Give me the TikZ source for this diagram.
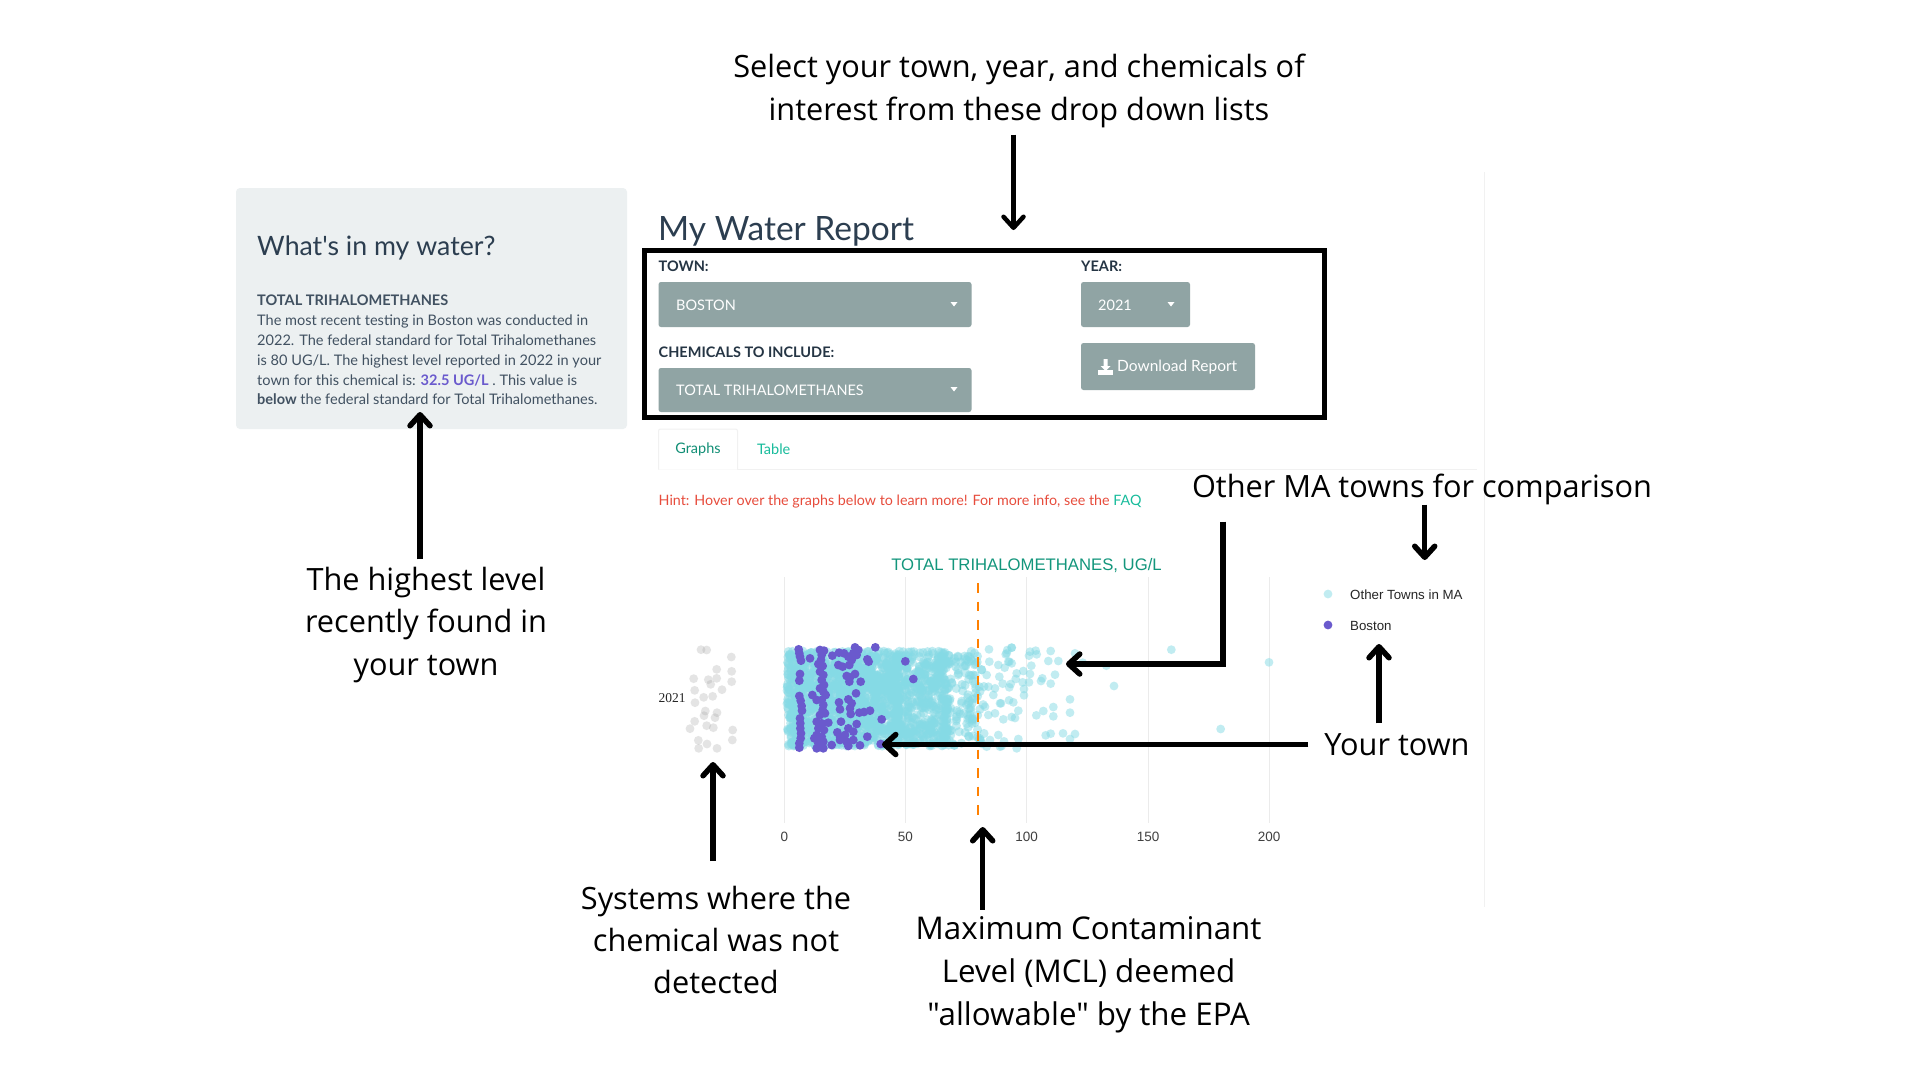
\documentclass[tikz,border=0pt]{standalone}
\usepackage{fontspec}
\usetikzlibrary{calc}
\usetikzlibrary{arrows.meta}
\newfontfamily\latofont{Lato}
\newfontfamily\annofont{Open Sans}
\newfontfamily\plotfont{Liberation Sans}
\newfontfamily\yearfont{Liberation Serif}
\definecolor{slate}{HTML}{2C3E50}
\definecolor{wellgrey}{HTML}{ECF0F1}
\definecolor{selectgrey}{HTML}{90A4A4}
\definecolor{tealdark}{HTML}{128F76}
\definecolor{teallite}{HTML}{18BC9C}
\definecolor{hintred}{HTML}{E74C3C}
\definecolor{townblue}{HTML}{6A5ACD}
\definecolor{dotcyan}{HTML}{85DAE5}
\definecolor{gridgrey}{HTML}{EBEBEB}
\definecolor{mclorange}{HTML}{FF8000}
\tikzset{
  callout/.style={black, line width=5.5pt, -{Straight Barb[round,length=11pt,width=20pt]}},
  anno/.style={font=\annofont\fontsize{30.7}{42.2}\selectfont, align=center, inner sep=0pt},
  selectbox/.style={fill=selectgrey, rounded corners=2.5pt},
  selecttext/.style={font=\latofont\fontsize{14.5}{17}\selectfont, text=white, anchor=west, inner sep=0pt},
  fieldlabel/.style={font=\latofont\bfseries\fontsize{14.5}{17}\selectfont, text=slate!85!black, anchor=base west, inner sep=0pt},
  ticklabel/.style={font=\plotfont\fontsize{13.5}{16}\selectfont, text=black!75, inner sep=0pt},
  legendlabel/.style={font=\plotfont\fontsize{13.3}{16}\selectfont, text=black!85, anchor=west, inner sep=0pt},
  ptcyan/.style={fill=dotcyan, fill opacity=.5},
  ptgrey/.style={fill=black!35, fill opacity=.3},
  ptblue/.style={fill=townblue}
}
\begin{document}
\begin{tikzpicture}[x=1pt,y=-1pt]
\useasboundingbox (0,0) rectangle (1920,1080);
\fill[white] (0,0) rectangle (1920,1080);

% sidebar
\fill[wellgrey, rounded corners=4pt] (236,188) rectangle (627,429);
\node[anchor=base west, inner sep=0pt, text=slate, font=\latofont\fontsize{26.7}{32}\selectfont] (sidetitle) at (257,255) {What's in my water?};
\node[anchor=north west, inner sep=0pt, align=left, text=slate!90, font=\latofont\fontsize{14.55}{19.8}\selectfont] (sidebody) at (257,295) {\textbf{TOTAL TRIHALOMETHANES}\\
The most recent testing in Boston was conducted in\\
2022. The federal standard for Total Trihalomethanes\\
is 80 UG/L. The highest level reported in 2022 in your\\
town for this chemical is: \textcolor{townblue}{\textbf{32.5 UG/L}} . This value is\\
\textbf{below} the federal standard for Total Trihalomethanes.};

% report header and inputs
\draw[gridgrey!70, line width=1pt] (1484,172) -- (1484,907);
\node[anchor=base west, inner sep=0pt, text=slate, font=\latofont\fontsize{33.5}{40}\selectfont] (reporttitle) at (658,240) {My Water Report};

\node[fieldlabel] (townlabel) at (658.5,271) {TOWN:};
\node[fieldlabel] (yearlabel) at (1081,271) {YEAR:};
\node[fieldlabel] (chemlabel) at (658.5,357) {CHEMICALS TO INCLUDE:};

\fill[selectbox] (658.5,282) rectangle (971.5,327);
\fill[selectbox] (1081,282) rectangle (1190,327);
\fill[selectbox] (658.5,368) rectangle (971.5,412);
\fill[selectbox] (1081,343) rectangle (1255,390);
\node[selecttext] (townvalue) at (676,305) {BOSTON};
\node[selecttext] (yearvalue) at (1098,305) {2021};
\node[selecttext] (chemvalue) at (676,390) {TOTAL TRIHALOMETHANES};
\node[selecttext, font=\latofont\fontsize{15.5}{18}\selectfont] (dlvalue) at (1117,367) {Download Report};
\foreach \x/\y in {954/304, 1171/304, 954/389}
\fill[white] (\x-3.5,\y-2) -- ++(7,0) -- ++(-3.5,4.5) -- cycle;
% download icon
\fill[white] (1103.5,359) rectangle (1107.5,366) (1100.5,366) -- (1110.5,366) -- (1105.5,371) -- cycle;
\fill[white] (1098,370) rectangle (1113,374.5);

\draw[black, line width=5pt] (644,250.5) rectangle (1324,417);

% tabs
\draw[gridgrey!70, line width=1pt] (658.5,469) -- (1477,469);
\draw[gridgrey!70, line width=1pt, fill=white, rounded corners=2pt] (658.5,469.5) -- (658.5,429) -- (737.5,429) -- (737.5,469.5);
\node[inner sep=0pt, text=tealdark, font=\latofont\fontsize{14.5}{17}\selectfont] (tabgraphs) at (698,449) {Graphs};
\node[inner sep=0pt, text=teallite, font=\latofont\fontsize{14.5}{17}\selectfont] (tabtable) at (773.7,449) {Table};
\node[anchor=base west, inner sep=0pt, text=hintred, font=\latofont\fontsize{14.3}{17}\selectfont] (hintline) at (658.5,505) {Hint: Hover over the graphs below to learn more! For more info, see the \textcolor{teallite}{FAQ}};

% plot
\node[inner sep=0pt, text=tealdark!85!teallite, font=\plotfont\fontsize{16.7}{20}\selectfont] (plottitle) at (1026.5,566) {TOTAL TRIHALOMETHANES, UG/L};
\foreach \v/\x in {0/784.3, 50/905.3, 100/1026.7, 150/1148, 200/1269}{
\draw[gridgrey, line width=1pt] (\x,577) -- (\x,823);
\node[ticklabel] (tick\v) at (\x,837) {\v};
}
\node[inner sep=0pt, font=\yearfont\fontsize{13.5}{16}\selectfont, text=black!85] (yearaxis) at (672,698) {2021};

\foreach \x/\y in {183/329,200/330,274/351,230/388,275/394,161/416,205/419,230/415,212/433,275/425,164/451,246/449,191/472,218/469,165/488,196/513,231/518,192/527,225/533,164/544,200/557,220/563,150/566,278/570,277/600,175/601,201/612,176/625,231/625}
\fill[ptgrey] ({640+\x/3},{540+\y/3}) circle (4.4pt);

% dense part of the cloud
\pgfmathsetseed{42}
\foreach \n/\xa/\xb in {1300/787/900, 420/895/948, 150/940/984}
\foreach \i in {1,...,\n}{
\pgfmathsetmacro{\px}{\xa+(\xb-\xa)*rnd}
\pgfmathsetmacro{\py}{651+95*rnd}
\fill[ptcyan] (\px,\py) circle (4.6pt);
}
\foreach \x/\y in {1047/328,1100/340,1115/323,1075/375,1048/365,1105/365,1040/405,1078/410,1045/440,1065/445,1060/465,1035/500,1045/525,1080/490,1065/520,1050/600,1075/585,1040/620,1080/620}
\fill[ptcyan] ({640+\x/3},{540+\y/3}) circle (4.4pt);
\foreach \x/\y in {35/323,22/330,17/343,28/365,35/370,14/383,50/400,70/393,90/402,94/377,90/335,107/332,87/347,110/343,152/333,145/363,175/363,225/340,248/368,165/404,127/415,123/423,152/431,87/427,68/427,47/417,32/432,8/431,28/442,72/447,72/466,27/481,40/487,55/512,35/531,45/534,10/538,3/490,109/526,130/513,160/501,160/529,210/478,210/518,137/586,152/581,189/580,225/582,210/597,55/597,12/604,50/625,5/618,514/329,319/377,342/438,662/567,807/367}
\fill[ptcyan] ({1000+\x/3},{540+\y/3}) circle (4.4pt);

\foreach \x/\y in {476/328,478/340,480/350,483/362,480/402,478/422,478/468,482/482,485/498,486/512,480/535,481/550,481/565,483/580,482/595,478/610,478/623,510/355,517/465,530/480,540/330,552/332,545/345,543/360,535/372,548/378,540/395,550/405,545/420,552/435,540/445,550/455,557/465,545/480,550/495,548/510,540/525,555/520,530/545,545/550,565/548,535/565,552/570,530/585,545/590,523/595,535/610,550/605,530/625,550/625,575/615,577/347,597/338,612/340,645/322,655/330,640/340,625/350,650/345,635/360,595/375,608/380,628/375,682/358,686/365,706/322,796/364,820/417,645/402,620/408,630/412,628/425,662/425,648/460,597/487,600/508,625/478,635/490,630/505,632/522,658/518,672/516,690/512,725/538,603/545,650/552,625/565,640/575,592/577,600/590,615/585,600/600,620/605,640/600,625/618,660/616,682/590,722/612}
\fill[ptblue] ({640+\x/3},{540+\y/3}) circle (4.4pt);

\draw[mclorange, line width=2.5pt, dash pattern=on 9.5pt off 9pt] (978,583) -- (978,818);

% legend
\fill[ptcyan] (1328,594) circle (4.4pt);
\fill[ptblue] (1328,625) circle (4.4pt);
\node[legendlabel] (legendother) at (1350,595) {Other Towns in MA};
\node[legendlabel] (legendtown) at (1350,626) {Boston};

% annotations
\node[anno, outer ysep=7pt] (lblselect) at (1019,91) {Select your town, year, and chemicals of\\interest from these drop down lists};
\node[anno, outer ysep=8pt] (lblhigh) at (426,625) {The highest level\\recently found in\\your town};
\node[anno] (lblother) at (1422,489) {Other MA towns for comparison};
\node[anno, outer xsep=16pt, outer ysep=10pt] (lbltown) at (1397,744.5) {Your town};
\node[anno, outer ysep=25pt] (lblsystem) at (716,940) {Systems where the\\chemical was not\\detected};
\node[anno, outer ysep=7pt, font=\annofont\fontsize{31.3}{43}\selectfont] (lblmcl) at (1088.6,975) {Maximum Contaminant\\Level (MCL) deemed\\"allowable" by the EPA};

\coordinate (tipselect) at (1013.5,230);
\coordinate (tiphigh) at (420,412);
\coordinate (kneeother) at (1223,664);
\coordinate (tipother) at (1066,664);
\coordinate (tiplegend) at (1424.7,560);
\coordinate (tipboston) at (1379,644);
\coordinate (tiptown) at (882,744.5);
\coordinate (tipsystem) at (713,762);
\coordinate (tipmcl) at (982.7,827);

\draw[callout, line width=4.5pt] (lblselect.south -| tipselect) -- (tipselect);
\draw[callout] (lblhigh.north -| tiphigh) -- (tiphigh);
\draw[callout] ($(lblother.south -| kneeother)+(0,17)$) -- (kneeother) -- (tipother);
\draw[callout] (lblother.south -| tiplegend) -- (tiplegend);
\draw[callout] (lbltown.north -| tipboston) -- (tipboston);
\draw[callout] (lbltown.west) -- (tiptown);
\draw[callout] (lblsystem.north -| tipsystem) -- (tipsystem);
\draw[callout] (lblmcl.north -| tipmcl) -- (tipmcl);

\end{tikzpicture}
\end{document}
